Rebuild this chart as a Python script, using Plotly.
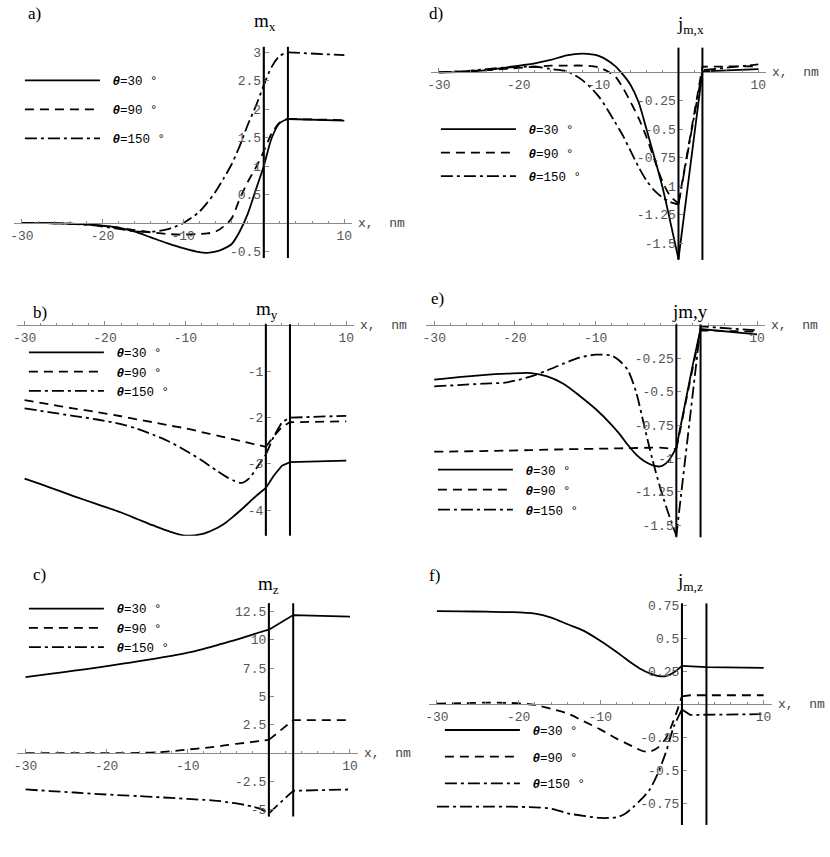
import plotly.graph_objects as go

W, H = 830, 857

# coordinate across the structure, nm
x_nm = [-30, -27, -24, -21, -18, -16, -14, -12, -10, -8, -7, -6, -5, -4, -3, -2, -1, 0, 1, 2, 3, 10]
interfaces = [0, 3]
angles = ["30", "90", "150"]
x_ticks = [-30, -20, -10, 10]
x_minor = list(range(-30, 11, 2))

# a) m_x
mx_30 = [0, 0, -0.01, -0.03, -0.08, -0.15, -0.25, -0.35, -0.44, -0.51, -0.52, -0.5, -0.45, -0.37, -0.15, 0.16, 0.58, 1.0, 1.5, 1.76, 1.83, 1.8]
mx_90 = [0, 0, -0.01, -0.03, -0.08, -0.12, -0.16, -0.19, -0.2, -0.19, -0.18, -0.15, -0.06, 0.08, 0.42, 0.72, 0.97, 1.26, 1.58, 1.77, 1.83, 1.81]
mx_150 = [0, 0, -0.01, -0.04, -0.1, -0.14, -0.15, -0.11, 0.0, 0.2, 0.36, 0.55, 0.78, 1.03, 1.35, 1.72, 2.05, 2.42, 2.75, 2.94, 3.0, 2.95]
# b) m_y
my_30 = [-3.32, -3.5, -3.69, -3.87, -4.05, -4.19, -4.33, -4.46, -4.55, -4.52, -4.46, -4.38, -4.27, -4.13, -3.98, -3.82, -3.66, -3.52, -3.25, -3.04, -2.96, -2.93]
my_90 = [-1.62, -1.71, -1.8, -1.88, -1.97, -2.04, -2.1, -2.17, -2.23, -2.31, -2.35, -2.39, -2.43, -2.47, -2.51, -2.55, -2.59, -2.63, -2.4, -2.2, -2.1, -2.08]
my_150 = [-1.8, -1.88, -1.96, -2.04, -2.14, -2.24, -2.37, -2.52, -2.71, -2.92, -3.04, -3.16, -3.27, -3.36, -3.41, -3.3, -3.05, -2.8, -2.4, -2.1, -2.0, -1.96]
# c) m_z
mz_30 = [6.72, 7.0, 7.28, 7.58, 7.9, 8.12, 8.35, 8.6, 8.88, 9.22, 9.4, 9.62, 9.82, 10.02, 10.25, 10.47, 10.7, 10.9, 11.33, 11.77, 12.2, 12.06]
mz_90 = [0, 0, 0, 0, 0.0, 0.02, 0.06, 0.16, 0.32, 0.45, 0.53, 0.62, 0.73, 0.82, 0.9, 0.99, 1.08, 1.17, 1.75, 2.35, 2.92, 2.92]
mz_150 = [-3.21, -3.35, -3.48, -3.62, -3.73, -3.8, -3.88, -3.96, -4.05, -4.13, -4.18, -4.24, -4.35, -4.45, -4.57, -4.73, -4.95, -5.32, -4.65, -3.98, -3.33, -3.21]
# d) j_m,x
jx_30 = [0.0, 0.005, 0.02, 0.05, 0.08, 0.11, 0.15, 0.165, 0.145, 0.06, -0.015, -0.11, -0.26, -0.5, -0.75, -1.01, -1.32, -1.64, -1.09, -0.54, 0.01, 0.03]
jx_90 = [0.0, 0.01, 0.02, 0.035, 0.05, 0.06, 0.06, 0.06, 0.045, -0.03, -0.13, -0.26, -0.4, -0.57, -0.77, -0.96, -1.09, -1.15, -0.75, -0.35, 0.05, 0.055]
jx_150 = [0.0, 0.01, 0.03, 0.045, 0.05, 0.03, 0.01, -0.07, -0.21, -0.43, -0.55, -0.69, -0.83, -0.95, -1.04, -1.1, -1.14, -1.16, -0.77, -0.38, 0.02, 0.07]
# e) j_m,y
jy_30 = [-0.41, -0.39, -0.375, -0.365, -0.36, -0.385, -0.44, -0.53, -0.63, -0.75, -0.82, -0.9, -0.97, -1.02, -1.05, -1.06, -1.02, -0.92, -0.61, -0.31, -0.03, -0.07]
jy_90 = [-0.95, -0.948, -0.945, -0.942, -0.938, -0.935, -0.932, -0.93, -0.928, -0.926, -0.925, -0.923, -0.922, -0.921, -0.92, -0.92, -0.925, -0.93, -0.62, -0.33, -0.04, -0.05]
jy_150 = [-0.46, -0.45, -0.44, -0.43, -0.385, -0.34, -0.29, -0.245, -0.222, -0.23, -0.27, -0.34, -0.5, -0.75, -1.0, -1.22, -1.41, -1.58, -1.06, -0.53, -0.01, -0.04]
# f) j_m,z
jz_30 = [0.705, 0.703, 0.7, 0.697, 0.685, 0.655, 0.605, 0.555, 0.48, 0.395, 0.35, 0.305, 0.265, 0.235, 0.215, 0.212, 0.24, 0.29, 0.287, 0.284, 0.28, 0.275]
jz_90 = [0.005, 0.008, 0.012, 0.01, -0.005, -0.035, -0.07, -0.13, -0.19, -0.26, -0.29, -0.32, -0.35, -0.36, -0.33, -0.26, -0.12, 0.06, 0.068, 0.068, 0.068, 0.068]
jz_150 = [-0.775, -0.775, -0.775, -0.775, -0.78, -0.79, -0.825, -0.845, -0.86, -0.855, -0.83, -0.78, -0.72, -0.65, -0.53, -0.37, -0.17, -0.04, -0.08, -0.08, -0.08, -0.075]

ticks_a = [-0.5, 0.5, 1, 1.5, 2, 2.5, 3]
ticks_b = [-1, -2, -3, -4]
ticks_c = [-5, -2.5, 2.5, 5, 7.5, 10, 12.5]
ticks_d = [-0.25, -0.5, -0.75, -1, -1.25, -1.5]
ticks_e = [-0.25, -0.5, -0.75, -1, -1.25, -1.5]
ticks_f = [-0.75, -0.5, -0.25, 0.25, 0.5, 0.75]

dashes = ["solid", "9px,6px", "12px,4px,3px,4px"]


def px(v):
    return v / W


def py(v):
    return 1 - v / H


def fmt(v):
    return "%g" % v


X_RANGE = [-31, 11]

# per panel: series, title, label, x pixel extent, y pixel extent (top, bottom), y range,
# y ticks, legend (line x, first line y, spacing), title centre, label pos,
# and the x where the curves stop being smooth (kink)
panels = [
    dict(series=[mx_30, mx_90, mx_150], title="m<sub>x</sub>", label="a)",
         xd=(9.9, 350.1), yd=(42, 255), yr=(-0.61, 3.1), yt=ticks_a,
         leg=(25, 76.7, 29), tpos=(262, 17), lpos=(22, 9), kink=3),
    dict(series=[my_30, my_90, my_150], title="m<sub>y</sub>", label="b)",
         xd=(12.6, 352), yd=(321.8, 535), yr=(-4.55, 0.02), yt=ticks_b,
         leg=(29, 351, 18), tpos=(264, 308), lpos=(27, 310), kink=0),
    dict(series=[mz_30, mz_90, mz_150], title="m<sub>z</sub>", label="c)",
         xd=(13.5, 355.8), yd=(603.3, 818.3), yr=(-5.61, 13.23), yt=ticks_c,
         leg=(29, 609.3, 17.5), tpos=(266, 585), lpos=(27, 574), kink=0),
    dict(series=[jx_30, jx_90, jx_150], title="j<sub>m,x</sub>", label="d)",
         xd=(429, 766), yd=(43, 257), yr=(-1.648, 0.218), yt=ticks_d,
         leg=(443, 126, 23.5), tpos=(690, 20), lpos=(425, 9), kink=0),
    dict(series=[jy_30, jy_90, jy_150], title="jm,y", label="e)",
         xd=(424.2, 764.8), yd=(322, 536.7), yr=(-1.592, 0.005), yt=ticks_e,
         leg=(440, 469.3, 20), tpos=(689, 309), lpos=(427, 296), kink=0),
    dict(series=[jz_30, jz_90, jz_150], title="j<sub>m,z</sub>", label="f)",
         xd=(426.8, 771.5), yd=(603.3, 826.7), yr=(-0.913, 0.763), yt=ticks_f,
         leg=(447, 731.7, 26.7), tpos=(689, 582), lpos=(425, 575), kink=0),
]

mono = "Liberation Mono"
serif = "Liberation Serif"
axis_grey = "#8a8a8a"
label_grey = "#555555"

fig = go.Figure()
layout = dict(width=W, height=H, margin=dict(l=0, r=0, t=0, b=0),
              paper_bgcolor="white", plot_bgcolor="white", showlegend=True)
shapes, annotations = [], []

for n, p in enumerate(panels, start=1):
    sfx = "" if n == 1 else str(n)
    xd = [px(p["xd"][0]), px(p["xd"][1])]
    yd = [py(p["yd"][1]), py(p["yd"][0])]
    ymin, ymax = p["yr"]
    xpos = xd[0] + (0 - X_RANGE[0]) / (X_RANGE[1] - X_RANGE[0]) * (xd[1] - xd[0])
    ypos = yd[0] + (0 - ymin) / (ymax - ymin) * (yd[1] - yd[0])
    leg_id = "legend" + sfx
    k = p["kink"]

    for i, ys in enumerate(p["series"]):
        grp = "%d_%d" % (n, i)
        style = dict(color="black", width=1.8, dash=dashes[i])
        # smooth part up to the kink, straight pieces after it
        xl = [x for x in x_nm if x <= k]
        yl = [y for x, y in zip(x_nm, ys) if x <= k]
        xr = [x for x in x_nm if x >= k]
        yr = [y for x, y in zip(x_nm, ys) if x >= k]
        fig.add_trace(go.Scatter(
            x=xl, y=yl, mode="lines", line=dict(shape="spline", smoothing=0.8, **style),
            name="\u00a0<b><i>\u03b8</i></b>=%s \u00b0" % angles[i],
            legend=leg_id, legendgroup=grp,
            xaxis="x" + sfx, yaxis="y" + sfx, hoverinfo="skip"))
        fig.add_trace(go.Scatter(
            x=xr, y=yr, mode="lines", line=style, showlegend=False,
            legend=leg_id, legendgroup=grp,
            xaxis="x" + sfx, yaxis="y" + sfx, hoverinfo="skip"))

    layout["xaxis" + sfx] = dict(
        domain=xd, range=X_RANGE, anchor="free", position=ypos,
        showline=True, linecolor=axis_grey, linewidth=1,
        showgrid=False, zeroline=False,
        ticks="inside", ticklen=4, tickcolor=axis_grey,
        tickmode="array", tickvals=x_ticks, ticktext=[fmt(v) for v in x_ticks],
        tickfont=dict(family=mono, size=13, color=label_grey),
        minor=dict(tickmode="array", tickvals=x_minor, ticks="inside", ticklen=2, tickcolor=axis_grey))
    layout["yaxis" + sfx] = dict(
        domain=yd, range=[ymin, ymax], anchor="free", position=xpos, side="left",
        showline=True, linecolor=axis_grey, linewidth=1,
        showgrid=False, zeroline=False,
        ticks="inside", ticklen=4, tickcolor=axis_grey,
        tickmode="array", tickvals=p["yt"], ticktext=[fmt(v) for v in p["yt"]],
        tickfont=dict(family=mono, size=13, color=label_grey))

    lx, ly, sp = p["leg"]
    layout[leg_id] = dict(
        x=px(lx - 9), xanchor="left", y=py(ly - 15.5), yanchor="top",
        bgcolor="rgba(0,0,0,0)", borderwidth=0, itemwidth=75,
        tracegroupgap=max(sp - 19.25, 0), itemclick=False, itemdoubleclick=False,
        font=dict(family=mono, size=12.5, color="black"))

    for v in interfaces:
        shapes.append(dict(type="line", xref="x" + sfx, yref="y" + sfx + " domain",
                           x0=v, x1=v, y0=0, y1=1, line=dict(color="black", width=2)))

    annotations.append(dict(text=p["title"], xref="paper", yref="paper",
                            x=px(p["tpos"][0]), y=py(p["tpos"][1]),
                            xanchor="center", yanchor="middle", showarrow=False,
                            font=dict(family=serif, size=19, color="black")))
    annotations.append(dict(text=p["label"], xref="paper", yref="paper",
                            x=px(p["lpos"][0]), y=py(p["lpos"][1]),
                            xanchor="left", yanchor="middle", showarrow=False,
                            font=dict(family=serif, size=17, color="black")))
    annotations.append(dict(text="x,\u00a0\u00a0nm", xref="paper", yref="paper",
                            x=xd[1] + px(4), y=ypos,
                            xanchor="left", yanchor="middle", showarrow=False,
                            font=dict(family=mono, size=13, color="#444444")))

layout["shapes"] = shapes
layout["annotations"] = annotations
fig.update_layout(**layout)

# the page body has a default margin; drop it so the figure sits at the window origin
fig.write_html("out.html", config={"displayModeBar": False},
               post_script="document.body.style.margin='0px';")
